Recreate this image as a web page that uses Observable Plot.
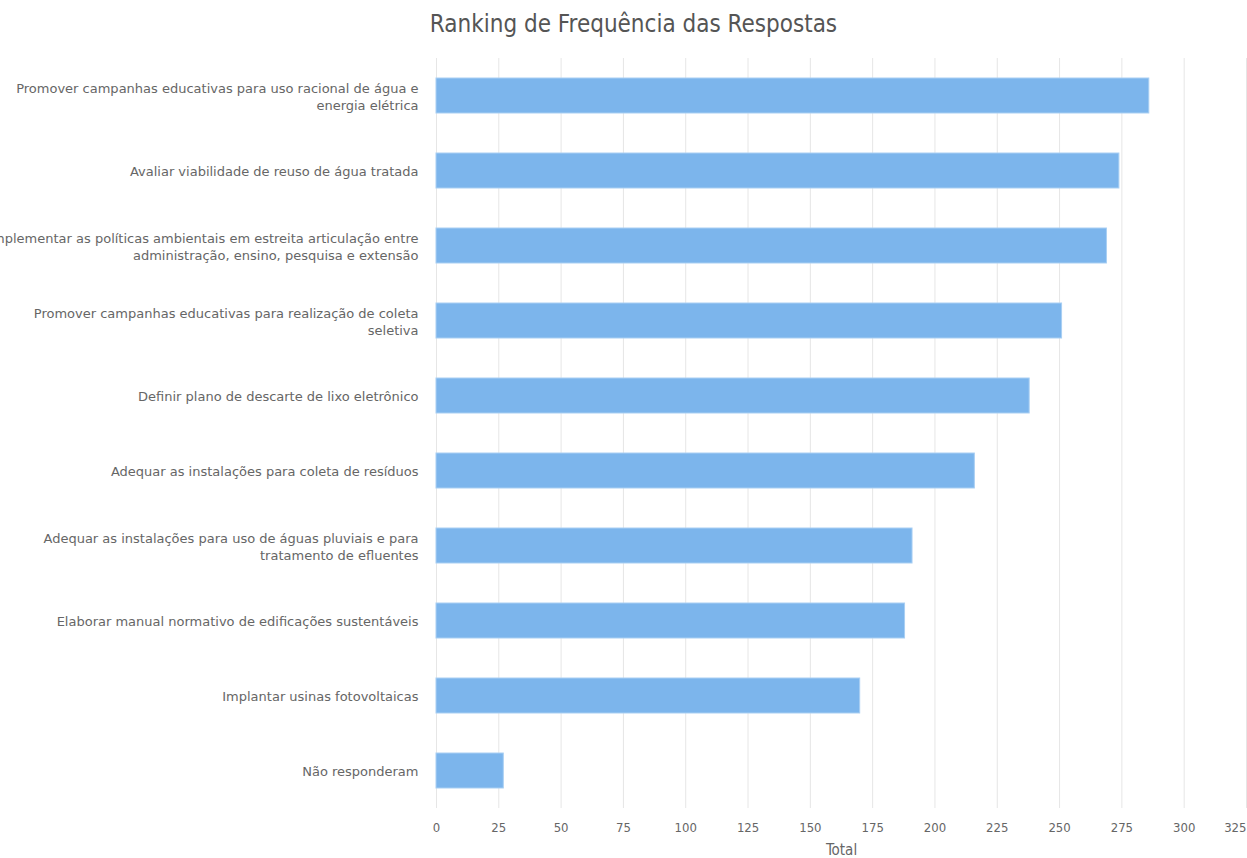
<!DOCTYPE html>
<html>
<head>
<meta charset="utf-8">
<script src="https://cdn.jsdelivr.net/npm/d3@7"></script>
<script src="https://cdn.jsdelivr.net/npm/@observablehq/plot@0.6"></script>
<style>
  html, body { margin: 0; padding: 0; background: #fff; }
  #title { height: 48px; line-height: 48px; text-align: center; padding-left: 20px;
           font-family: "DejaVu Sans Condensed", "DejaVu Sans", sans-serif; font-size: 24px; color: #555; }
  svg { display: block; }
</style>
</head>
<body>
<div id="title">Ranking de Frequência das Respostas</div>
<div id="chart"></div>
<script>
const categories = [
  "Promover campanhas educativas para uso racional de água e\nenergia elétrica",
  "Avaliar viabilidade de reuso de água tratada",
  "Implementar as políticas ambientais em estreita articulação entre\nadministração, ensino, pesquisa e extensão",
  "Promover campanhas educativas para realização de coleta\nseletiva",
  "Definir plano de descarte de lixo eletrônico",
  "Adequar as instalações para coleta de resíduos",
  "Adequar as instalações para uso de águas pluviais e para\ntratamento de efluentes",
  "Elaborar manual normativo de edificações sustentáveis",
  "Implantar usinas fotovoltaicas",
  "Não responderam"
];
const totals = [286, 274, 269, 251, 238, 216, 191, 188, 170, 27];
const xTicks = [0, 25, 50, 75, 100, 125, 150, 175, 200, 225, 250, 275, 300];
const xLastTick = [325];
const xLabel = "Total";

const data = categories.map((c, i) => ({category: c, total: totals[i]}));

const condensed = "DejaVu Sans Condensed, DejaVu Sans, sans-serif";
const chart = Plot.plot({
  width: 1247,
  height: 810,
  marginLeft: 436,
  marginRight: 1,
  marginTop: 10,
  marginBottom: 50,
  style: {fontFamily: "DejaVu Sans, sans-serif", fontSize: "13px", color: "#666"},
  x: {domain: [0, 325]},
  y: {domain: categories, paddingInner: 0.53, paddingOuter: 0.265},
  marks: [
    Plot.gridX([...xTicks, ...xLastTick], {stroke: "#e6e6e6", strokeOpacity: 1, strokeWidth: 1}),
    Plot.barX(data, {x: "total", y: "category", fill: "#7cb5ec", stroke: "#a9cff3", strokeWidth: 1}),
    Plot.axisY({tickSize: 0, tickPadding: 18, lineHeight: 1.3, fontSize: 13, fill: "#666", label: null, textOverflow: null}),
    Plot.axisX(xTicks, {tickSize: 0, tickPadding: 14, fontSize: 13, fill: "#666", fontFamily: condensed, label: null}),
    Plot.axisX(xLastTick, {tickSize: 0, tickPadding: 14, fontSize: 13, fill: "#666", textAnchor: "end", fontFamily: condensed, label: null}),
    Plot.text([xLabel], {frameAnchor: "bottom", dy: 46, text: d => d, fontSize: 15, fill: "#666", fontFamily: condensed})
  ]
});
document.getElementById("chart").appendChild(chart);
</script>
</body>
</html>
